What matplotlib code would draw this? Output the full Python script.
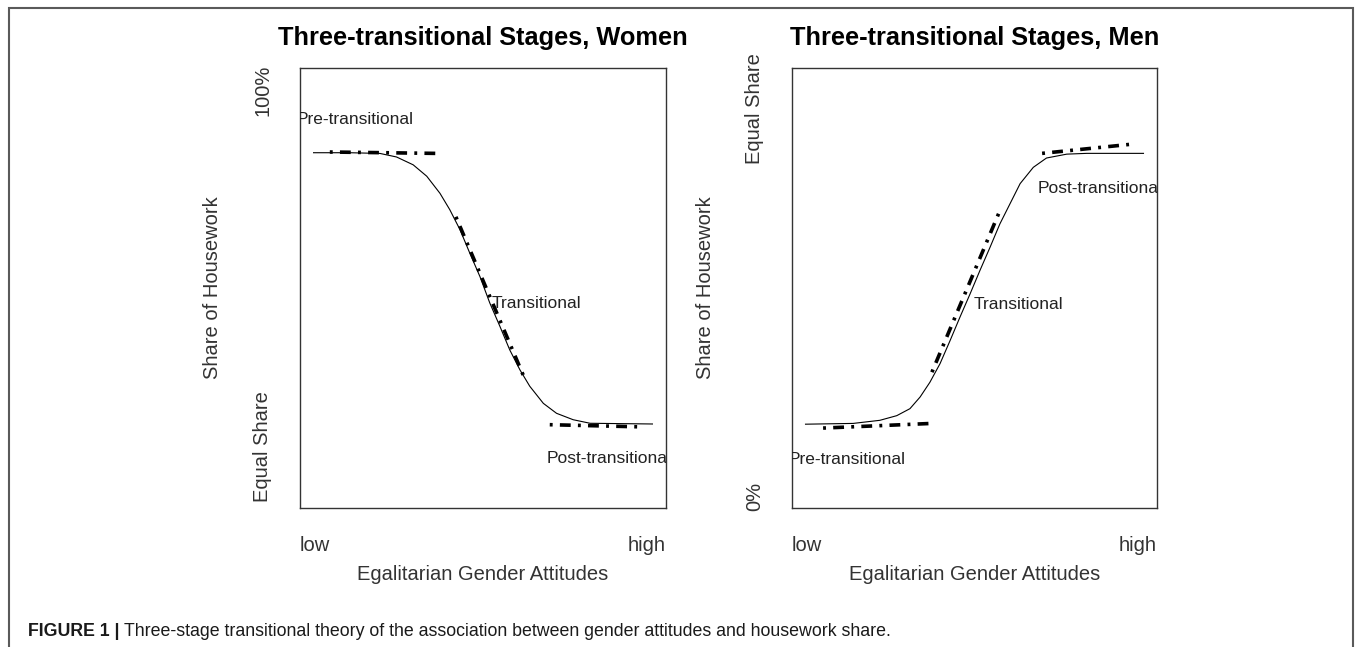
import matplotlib
matplotlib.use("Agg")
import matplotlib.pyplot as plt
from matplotlib.patches import Rectangle

plt.rcParams['font.family'] = ['Liberation Sans', 'DejaVu Sans']

# attitude scale (low -> high)
women_x = [0.0, 0.107, 0.196, 0.245, 0.294, 0.334, 0.373, 0.402, 0.432, 0.461, 0.491,
           0.520, 0.550, 0.579, 0.609, 0.638, 0.678, 0.717, 0.766, 0.816, 1.0]
women_y = [91.3, 91.3, 91.2, 90.7, 89.6, 88.0, 85.6, 83.3, 80.5, 77.2, 73.9,
           70.2, 66.9, 63.6, 60.8, 58.5, 56.1, 54.7, 53.8, 53.3, 53.2]

men_x = [0.0, 0.141, 0.220, 0.270, 0.309, 0.339, 0.368, 0.398, 0.428, 0.457, 0.487,
         0.516, 0.546, 0.575, 0.605, 0.635, 0.674, 0.713, 0.773, 0.832, 1.0]
men_y = [9.3, 9.4, 9.8, 10.4, 11.3, 12.8, 14.7, 17.1, 20.1, 23.1, 26.1,
         29.1, 32.1, 35.1, 37.7, 40.3, 42.4, 43.6, 44.1, 44.2, 44.2]

# three stage segments ([x0, x1], [y0, y1])
women_stages = [([0.048, 0.373], [91.4, 91.2]),
                ([0.420, 0.621], [82.3, 59.8]),
                ([0.697, 0.963], [53.1, 52.8])]
men_stages = [([0.052, 0.374], [8.8, 9.4]),
              ([0.374, 0.572], [16.0, 36.5]),
              ([0.700, 0.969], [44.2, 45.4])]

stage_names = ['Pre-transitional', 'Transitional', 'Post-transitional']
women_label_pos = [(-0.05, 95.9), (0.526, 70.1), (0.689, 48.3)]
men_label_pos = [(-0.05, 4.8), (0.496, 24.7), (0.687, 39.7)]

women_yticks = [100, 50]
women_yticklabels = ['100%', 'Equal Share']
men_yticks = [50, 0]
men_yticklabels = ['Equal Share', '0%']
women_ylim = (41.4, 103.2)
men_ylim = (-1.5, 55.2)

fig = plt.figure(figsize=(13.55, 6.47), dpi=100)

# outer frame of the figure panel (open at the bottom)
fig.add_artist(Rectangle((9 / 1355, -0.2), 1344 / 1355, 1.2 - 8 / 647,
                         transform=fig.transFigure, fill=False,
                         edgecolor='#5a5a5a', linewidth=1.5))

ax1 = fig.add_axes([300 / 1355, 139 / 647, 366 / 1355, 440 / 647])
ax2 = fig.add_axes([792 / 1355, 139 / 647, 365 / 1355, 440 / 647])


def draw_panel(ax, xs, ys, stages, label_pos, yticks, yticklabels, ylim, title):
    ax.plot(xs, ys, color='black', linewidth=0.8)
    for sx, sy in stages:
        ax.plot(sx, sy, color='black', linewidth=2.6, dashes=(0.8, 2.0, 3.0, 2.0))
    for name, (tx, ty) in zip(stage_names, label_pos):
        ax.text(tx, ty, name, fontsize=12.5, ha='left', va='center',
                color='#222222', clip_on=True)
    ax.set_xlim(-0.04, 1.04)
    ax.set_ylim(*ylim)
    for sp in ax.spines.values():
        sp.set_color('#333333')
        sp.set_linewidth(1.0)

    ax.set_xticks([-0.04, 1.04], ['low', 'high'])
    ax.get_xticklabels()[0].set_ha('left')
    ax.get_xticklabels()[1].set_ha('right')
    ax.set_yticks(yticks, yticklabels)
    ax.tick_params(length=0, labelsize=14.5, labelcolor='#333333')
    ax.tick_params(axis='x', pad=20)
    ax.tick_params(axis='y', pad=20, labelrotation=90)
    for lab in ax.get_yticklabels():
        lab.set_va('center')

    ax.set_xlabel('Egalitarian Gender Attitudes', fontsize=14.5, color='#333333')
    ax.xaxis.set_label_coords(0.5, -0.15)
    ax.xaxis.label.set_va('center')
    ax.set_ylabel('Share of Housework', fontsize=14.5, color='#333333')
    ax.yaxis.set_label_coords(-0.238, 0.5)
    ax.yaxis.label.set_va('center')
    ax.set_title(title, fontsize=18.3, fontweight='bold', y=1.068, pad=0,
                 va='center')


draw_panel(ax1, women_x, women_y, women_stages, women_label_pos,
           women_yticks, women_yticklabels, women_ylim,
           'Three-transitional Stages, Women')
draw_panel(ax2, men_x, men_y, men_stages, men_label_pos,
           men_yticks, men_yticklabels, men_ylim,
           'Three-transitional Stages, Men')

# caption
cap = fig.text(28 / 1355, 1 - 631 / 647, 'FIGURE 1 |', fontsize=12.8,
               fontweight='bold', va='center', color='#1a1a1a')
fig.canvas.draw()
bb = cap.get_window_extent()
fig.text(bb.x1 / 1355 + 4 / 1355, 1 - 631 / 647,
         'Three-stage transitional theory of the association between gender '
         'attitudes and housework share.',
         fontsize=12.8, va='center', color='#1a1a1a')

fig.savefig('out.png', dpi=100)
